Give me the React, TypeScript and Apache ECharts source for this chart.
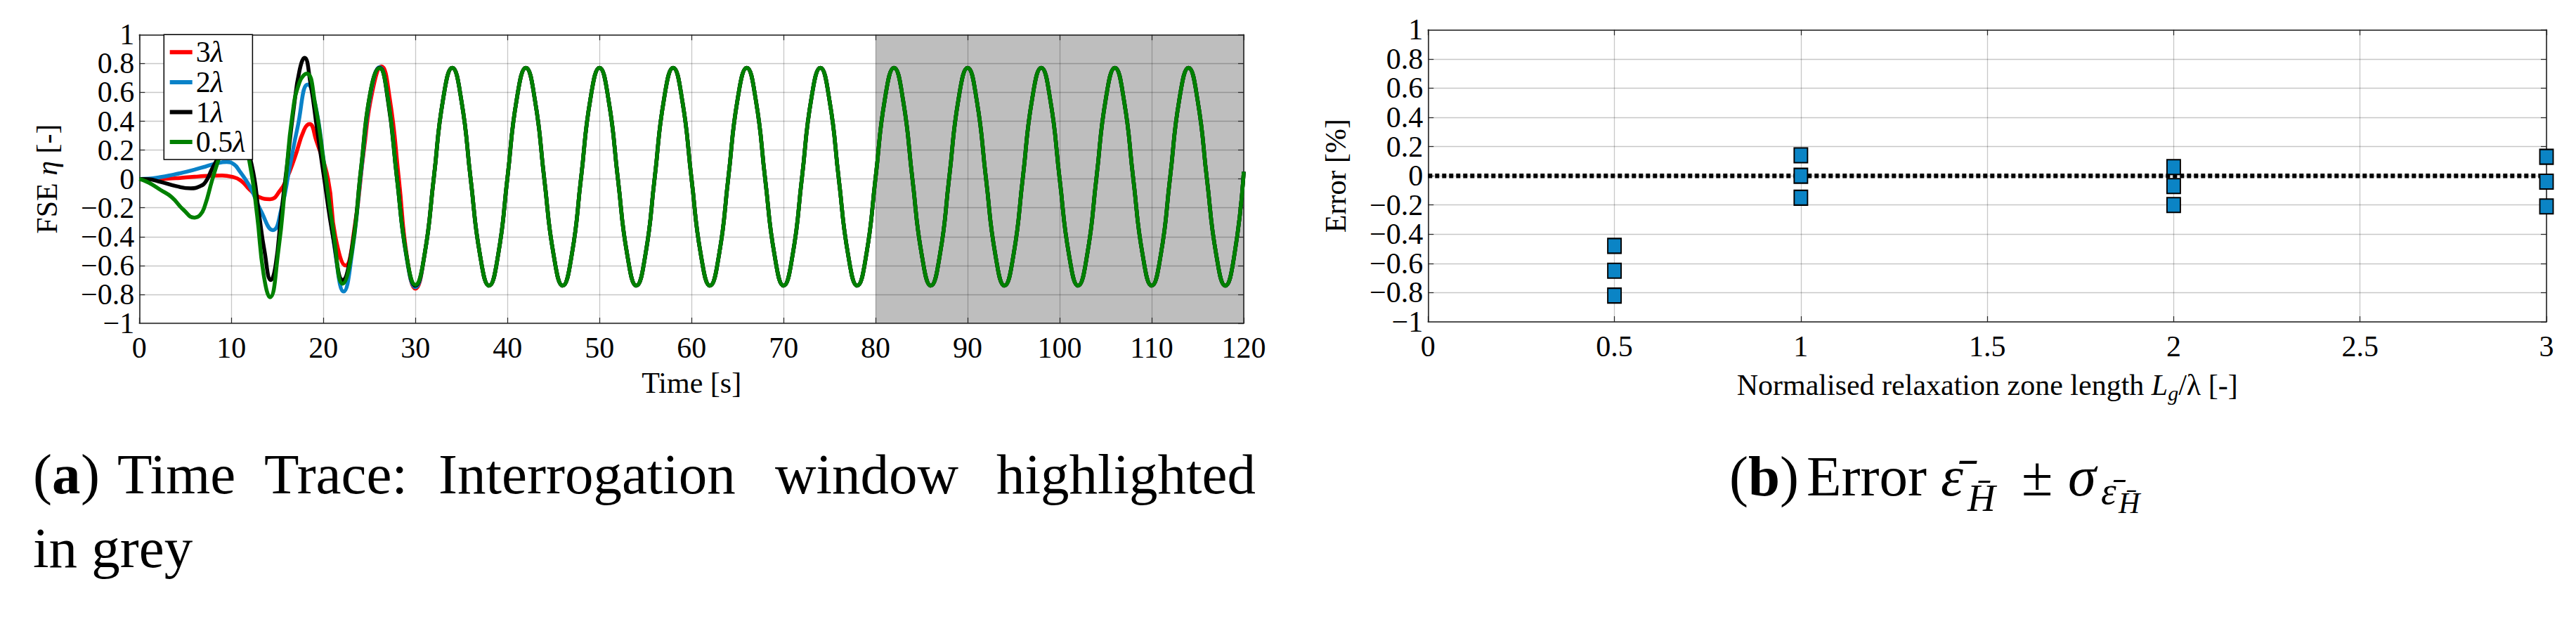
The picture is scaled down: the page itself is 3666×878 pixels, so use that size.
import React, { useEffect, useRef } from 'react';
import * as echarts from 'echarts';

const FONT = 'Liberation Serif, Times New Roman, serif';

// ---------- (a) time trace ----------
const seriesNames = ['3λ', '2λ', '1λ', '0.5λ'];
const seriesColors = ['#ff0000', '#0a82c8', '#000000', '#008000'];

// transient part, [time s, FSE]
const trace3: [number, number][] = [
  [0, 0], [1, 0], [2, 0], [3, 0.002], [4, 0.005], [5, 0.01], [6, 0.015], [7, 0.02], [8, 0.023], [9, 0.024],
  [10, 0.016], [11, -0.01], [12, -0.075], [13, -0.125], [14.2, -0.14], [15.3, -0.08], [16, 0.0], [16.9, 0.15],
  [17.9, 0.34], [18.5, 0.38], [19.2, 0.27], [20.5, 0.0], [21.3, -0.4], [22.4, -0.6], [23.4, -0.33], [24.4, 0.2],
  [25.3, 0.6], [26.3, 0.78], [27.2, 0.56], [28.2, 0.0], [29.1, -0.55], [30, -0.76],
];
const trace2: [number, number][] = [
  [0, 0], [1, 0.002], [2.3, 0.013], [3.5, 0.027], [4.8, 0.045], [6, 0.065], [7.2, 0.086], [8.4, 0.108], [9.5, 0.117],
  [10.3, 0.1], [10.9, 0.054], [11.6, -0.01], [12.2, -0.076], [13.2, -0.22], [14.5, -0.355], [15.5, -0.19],
  [16.3, 0.07], [17.2, 0.36], [18.3, 0.655], [19.1, 0.52], [20, 0.14], [21.3, -0.515], [22.2, -0.78], [23.1, -0.52],
  [24.1, 0.05], [25.1, 0.58], [26.1, 0.775], [27, 0.56], [28, 0.0], [29, -0.53], [30, -0.75],
];
const trace1: [number, number][] = [
  [0, 0], [1, -0.002], [2.3, -0.02], [4, -0.05], [5.6, -0.065], [6.6, -0.05], [7.2, -0.02], [7.9, 0.07], [8.4, 0.13],
  [9.3, 0.26], [10.3, 0.32], [11.3, 0.25], [12.2, 0.1], [13, -0.24], [13.6, -0.5], [14.3, -0.7], [14.8, -0.6],
  [15.4, -0.25], [16, 0.07], [16.8, 0.5], [17.4, 0.75], [17.95, 0.84], [18.6, 0.66], [19.3, 0.35], [20, 0.04],
  [21.1, -0.42], [22.1, -0.7], [23.1, -0.48], [24.1, 0.08], [25.1, 0.6], [26.1, 0.77], [27, 0.55], [28, 0.0],
  [29, -0.52], [30, -0.74],
];
const trace05: [number, number][] = [
  [0, 0], [1, -0.025], [2.3, -0.076], [3.5, -0.125], [4.8, -0.214], [6, -0.268], [6.6, -0.25], [7.1, -0.19],
  [7.9, -0.01], [8.6, 0.134], [9.4, 0.3], [10.3, 0.38], [11.2, 0.3], [12.1, 0.07], [12.8, -0.255], [13.5, -0.66],
  [14.2, -0.82], [15.1, -0.5], [15.9, -0.01], [16.6, 0.43], [17.4, 0.67], [18.2, 0.73], [19.1, 0.52], [20, 0.134],
  [21.1, -0.37], [22.1, -0.726], [23.1, -0.5], [24.1, 0.08], [25.1, 0.6], [26.1, 0.768], [27, 0.56], [28, 0.0],
  [29, -0.52], [30, -0.734],
];
// common steady wave, 1 s steps from t = 31 s to 120 s
const tailStart = 31;
const tailValues = [
  -0.52,
  0.01, 0.55, 0.77, 0.54, 0.0, -0.52, -0.74, -0.52,
  0.01, 0.55, 0.77, 0.54, 0.0, -0.52, -0.74, -0.52,
  0.01, 0.55, 0.77, 0.54, 0.0, -0.52, -0.74, -0.52,
  0.01, 0.55, 0.77, 0.54, 0.0, -0.52, -0.74, -0.52,
  0.01, 0.55, 0.77, 0.54, 0.0, -0.52, -0.74, -0.52,
  0.01, 0.55, 0.77, 0.54, 0.0, -0.52, -0.74, -0.52,
  0.01, 0.55, 0.77, 0.54, 0.0, -0.52, -0.74, -0.52,
  0.01, 0.55, 0.77, 0.54, 0.0, -0.52, -0.74, -0.52,
  0.01, 0.55, 0.77, 0.54, 0.0, -0.52, -0.74, -0.52,
  0.01, 0.55, 0.77, 0.54, 0.0, -0.52, -0.74, -0.52,
  0.01, 0.55, 0.77, 0.54, 0.0, -0.52, -0.74, -0.52,
  0.05,
];
const transients = [trace3, trace2, trace1, trace05];
const interrogationWindow = [80, 120];

// ---------- (b) error ----------
const relaxLength = [0.5, 1, 2, 3];
const errorMean = [-0.65, 0.0, -0.07, -0.04];
const errorUpper = [-0.48, 0.14, 0.06, 0.13];
const errorLower = [-0.82, -0.15, -0.2, -0.21];

const AX = '#262626';
const GRIDC = 'rgba(0,0,0,0.22)';

const fmt = (v: number) => {
  const r = Math.round(v * 10) / 10;
  if (r === 0) return '0';
  return (r < 0 ? '\u2212' : '') + String(Math.abs(r));
};

const labelStyle = { fontFamily: FONT, fontSize: 42, color: '#000', fontWeight: 'normal' };

function mainAxis(extra: any) {
  return {
    type: 'value',
    z: 1,
    axisLine: { show: true, onZero: false, lineStyle: { color: AX, width: 1.6 } },
    axisTick: { show: true, inside: true, length: 8, lineStyle: { color: AX, width: 1.2 } },
    splitLine: { show: true, lineStyle: { color: GRIDC, width: 1.3 } },
    nameTextStyle: { ...labelStyle },
    ...extra,
  };
}
function frameAxis(extra: any) {
  return {
    type: 'value',
    z: 1,
    axisLine: { show: true, onZero: false, lineStyle: { color: AX, width: 1.6 } },
    axisTick: { show: true, inside: true, length: 8, lineStyle: { color: AX, width: 1.2 } },
    splitLine: { show: false },
    axisLabel: { show: false },
    ...extra,
  };
}
// label-only axis for the end values of the y range
function endLabelAxis(gridIndex: number) {
  return {
    type: 'value',
    gridIndex,
    position: 'left',
    min: -1,
    max: 1,
    interval: 2,
    z: 1,
    axisLine: { show: false },
    axisTick: { show: false },
    splitLine: { show: false },
    axisLabel: { ...labelStyle, formatter: fmt, margin: 7, showMinLabel: true, showMaxLabel: true },
  };
}
const tickLabels = (margin: number, ends: boolean) => ({
  ...labelStyle,
  formatter: fmt,
  margin,
  showMinLabel: ends,
  showMaxLabel: ends,
  hideOverlap: false,
});

export default function App() {
  const ref = useRef<HTMLDivElement>(null);
  useEffect(() => {
    if (!ref.current) return;
    const chart = echarts.init(ref.current, null, { renderer: 'svg', width: 3666, height: 878 });

    const traceSeries = transients.map((tr, i) => ({
      type: 'line',
      name: seriesNames[i],
      xAxisIndex: 0,
      yAxisIndex: 0,
      data: tr.concat(tailValues.map((v, k) => [tailStart + k, v] as [number, number])),
      smooth: 0.5,
      showSymbol: false,
      symbol: 'none',
      color: seriesColors[i],
      lineStyle: { color: seriesColors[i], width: 5.5 },
      z: 2,
      silent: true,
    }));

    const CF = 81;
    const cap = (x: number, y: number, text: string, font: string) => ({
      type: 'text', x, y, z: 20,
      style: { text, font, fill: '#000', verticalAlign: 'middle' },
    });

    const option: any = {
      animation: false,
      backgroundColor: '#fff',
      grid: [
        { left: 198.3, top: 49.3, width: 1571.7, height: 410.7 },
        { left: 2032.3, top: 42.3, width: 1591.7, height: 415.7 },
      ],
      xAxis: [
        mainAxis({
          gridIndex: 0, position: 'bottom', min: 0, max: 120, interval: 10,
          axisLabel: tickLabels(14, true),
          name: 'Time [s]', nameLocation: 'middle', nameGap: 64,
        }),
        frameAxis({ gridIndex: 0, position: 'top', min: 0, max: 120, interval: 10 }),
        mainAxis({
          gridIndex: 1, position: 'bottom', min: 0, max: 3, interval: 0.5,
          axisLabel: tickLabels(14, true),
          name: 'Normalised relaxation zone length {i|L}{s|g}/λ [-]', nameLocation: 'middle', nameGap: 64,
          nameTextStyle: {
            ...labelStyle,
            rich: {
              i: { fontFamily: FONT, fontSize: 42, fontStyle: 'italic', color: '#000' },
              s: { fontFamily: FONT, fontSize: 30, fontStyle: 'italic', color: '#000', padding: [22, 0, 0, 0] },
            },
          },
        }),
        frameAxis({ gridIndex: 1, position: 'top', min: 0, max: 3, interval: 0.5 }),
      ],
      yAxis: [
        mainAxis({
          gridIndex: 0, position: 'left', min: -1, max: 1, interval: 0.2,
          axisLabel: tickLabels(7, false),
          name: 'FSE {i|η} [-]', nameLocation: 'middle', nameGap: 110,
          nameTextStyle: { ...labelStyle, rich: { i: { fontFamily: FONT, fontSize: 42, fontStyle: 'italic', color: '#000' } } },
        }),
        frameAxis({ gridIndex: 0, position: 'right', min: -1, max: 1, interval: 0.2 }),
        mainAxis({
          gridIndex: 1, position: 'left', min: -1, max: 1, interval: 0.2,
          axisLabel: tickLabels(7, false),
          name: 'Error [%]', nameLocation: 'middle', nameGap: 110,
        }),
        frameAxis({ gridIndex: 1, position: 'right', min: -1, max: 1, interval: 0.2 }),
        endLabelAxis(0),
        endLabelAxis(1),
      ],
      legend: {
        data: seriesNames,
        orient: 'vertical',
        left: 233.3,
        top: 49.3,
        z: 10,
        icon: 'rect',
        itemWidth: 32,
        itemHeight: 6,
        itemGap: 0.6,
        padding: [4, 10, 4, 8.4],
        backgroundColor: '#fff',
        borderColor: '#000',
        borderWidth: 1.5,
        borderRadius: 0,
        selectedMode: false,
        formatter: (name: string) => name.replace('λ', '{i|λ}'),
        textStyle: {
          ...labelStyle,
          lineHeight: 42,
          rich: { i: { fontFamily: FONT, fontSize: 42, fontStyle: 'italic', color: '#000', lineHeight: 42 } },
        },
      },
      series: [
        {
          type: 'custom',
          xAxisIndex: 0,
          yAxisIndex: 0,
          z: 0,
          silent: true,
          encode: { x: [0, 1] },
          data: [interrogationWindow],
          renderItem: (params: any, api: any) => {
            const p0 = api.coord([api.value(0), 1]);
            const p1 = api.coord([api.value(1), -1]);
            return {
              type: 'rect',
              shape: { x: p0[0], y: p0[1], width: p1[0] - p0[0], height: p1[1] - p0[1] },
              style: { fill: '#bebebe' },
            };
          },
        },
        ...traceSeries,
        {
          type: 'line',
          xAxisIndex: 2,
          yAxisIndex: 2,
          data: [[0, 0], [3, 0]],
          showSymbol: false,
          symbol: 'none',
          lineStyle: { color: '#000', width: 6.5, type: [6, 4], cap: 'butt' },
          z: 2,
          silent: true,
        },
        ...[errorUpper, errorMean, errorLower].map((arr) => ({
          type: 'scatter',
          xAxisIndex: 2,
          yAxisIndex: 2,
          data: relaxLength.map((x, k) => [x, arr[k]]),
          symbol: 'rect',
          symbolSize: [19, 21],
          clip: false,
          itemStyle: { color: '#0b84c5', borderColor: '#000', borderWidth: 2, opacity: 1 },
          z: 4,
          silent: true,
        })),
      ],
      graphic: [
        cap(47, 675, '(', `${CF}px ${FONT}`),
        cap(74, 675, 'a', `bold ${CF}px ${FONT}`),
        cap(115, 675, ')', `${CF}px ${FONT}`),
        cap(167, 675, 'Time', `${CF}px ${FONT}`),
        cap(376, 675, 'Trace:', `${CF}px ${FONT}`),
        cap(624, 675, 'Interrogation', `${CF}px ${FONT}`),
        cap(1103, 675, 'window', `${CF}px ${FONT}`),
        cap(1418, 675, 'highlighted', `${CF}px ${FONT}`),
        cap(47, 780, 'in grey', `${CF}px ${FONT}`),

        cap(2461, 678, '(', `${CF}px ${FONT}`),
        cap(2488, 678, 'b', `bold ${CF}px ${FONT}`),
        cap(2533, 678, ')', `${CF}px ${FONT}`),
        cap(2571, 678, 'Error', `${CF}px ${FONT}`),
        cap(2762, 678, '\u03B5\u0304', `italic ${CF}px ${FONT}`),
        cap(2800, 708, 'H\u0304', `italic 55px ${FONT}`),
        cap(2877, 678, '±', `${CF}px ${FONT}`),
        cap(2943, 678, 'σ', `italic ${CF}px ${FONT}`),
        cap(2990, 698, '\u03B5\u0304', `italic 55px ${FONT}`),
        cap(3015, 716, 'H\u0304', `italic 42px ${FONT}`),
      ],
    };

    chart.setOption(option);
    return () => chart.dispose();
  }, []);

  return (
    <div
      ref={ref}
      style={{ position: 'fixed', left: 0, top: 0, width: 3666, height: 878, background: '#fff' }}
    />
  );
}
